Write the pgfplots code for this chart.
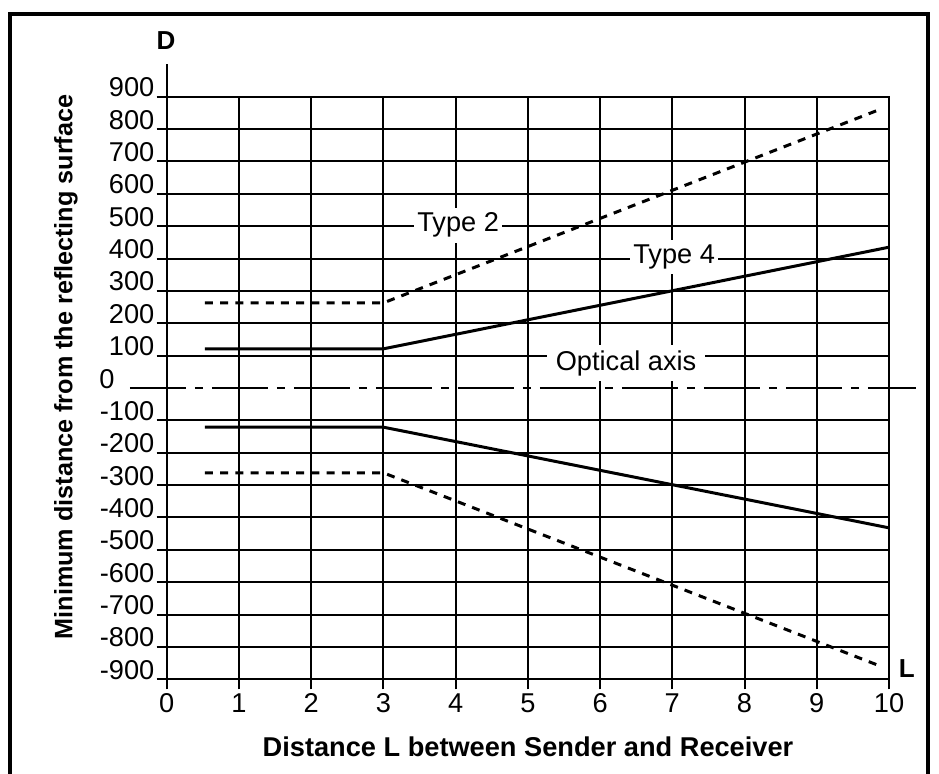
\documentclass[border=0pt]{standalone}
\usepackage{pgfplots}
\pgfplotsset{compat=1.18}
\usepackage{fontspec}
\setmainfont{Liberation Sans}
\begin{document}
\fontsize{13.6pt}{16pt}\selectfont
\begin{tikzpicture}
\useasboundingbox (0pt,0pt) rectangle (469.5pt,-386.5pt);
\begin{scope}[x=0.5pt,y=-0.5pt]
\draw[line width=2pt] (9.5,780) -- (9.5,13.5) -- (927.5,13.5) -- (927.5,780);
\end{scope}
\begin{axis}[
  at={(83.35pt,-339.65pt)}, anchor=south west,
  scale only axis, width=361.15pt, height=291.3pt,
  xmin=0, xmax=10, ymin=-900, ymax=900,
  clip=false,
  axis line style={line width=1pt},
  grid=major, grid style={black, line width=1pt},
  xtick={0,1,2,3,4,5,6,7,8,9,10},
  ytick={-900,-800,-700,-600,-500,-400,-300,-200,-100,100,200,300,400,500,600,700,800,900},
  yticklabels={-900,-800,-700,-600,-500,-400,-300,-200,-100,100,200,300,400,500,600,700,800,900},
  xtick pos=left, ytick pos=left,
  tick align=outside,
  major tick length=5pt,
  tick style={black, line width=1pt},
  yticklabel style={anchor=base east, inner xsep=1pt},
  xticklabel style={inner ysep=2pt},
  /pgf/number format/assume math mode=true,
]
\addplot[black, line width=1.5pt] coordinates {(0.53,121) (3,121) (10,435)};
\addplot[black, line width=1.5pt] coordinates {(0.53,-121) (3,-121) (10,-432)};
\addplot[black, line width=1.5pt, dash pattern=on 4pt off 3.6pt] coordinates {(0.53,263) (3,263) (9.9,863)};
\addplot[black, line width=1.5pt, dash pattern=on 4pt off 3.6pt] coordinates {(0.53,-262) (3,-262) (9.9,-861)};
\addplot[black, line width=1pt, dash pattern=on 28pt off 4.5pt on 4pt off 4.5pt] coordinates {(-0.51,0) (10.37,0)};
\draw[line width=1pt] (axis cs:0,900) -- (axis cs:0,1001);
\node[fill=white, inner xsep=1.5pt, inner ysep=2.5pt] at (axis cs:4.035,503) {Type 2};
\node[fill=white, inner xsep=1.5pt, inner ysep=2.5pt] at (axis cs:7.026,405) {Type 4};
\node[fill=white, inner xsep=4.5pt, inner ysep=2.5pt] at (axis cs:6.36,77) {Optical axis};
\node[anchor=base east, inner sep=0pt] at (axis cs:-0.716,0) {0};
\end{axis}
\begin{scope}[x=0.5pt,y=-0.5pt]
\node[font=\bfseries\fontsize{13}{15}\selectfont] at (166,41) {D};
\node[font=\bfseries\fontsize{13}{15}\selectfont] at (906.7,668.3) {L};
\node[font=\bfseries\fontsize{13.6}{16}\selectfont] at (528,746.7) {Distance L between Sender and Receiver};
\node[font=\bfseries\fontsize{12.6}{15}\selectfont, rotate=90] at (66,367) {Minimum distance from the reflecting surface};
\end{scope}
\end{tikzpicture}
\end{document}
